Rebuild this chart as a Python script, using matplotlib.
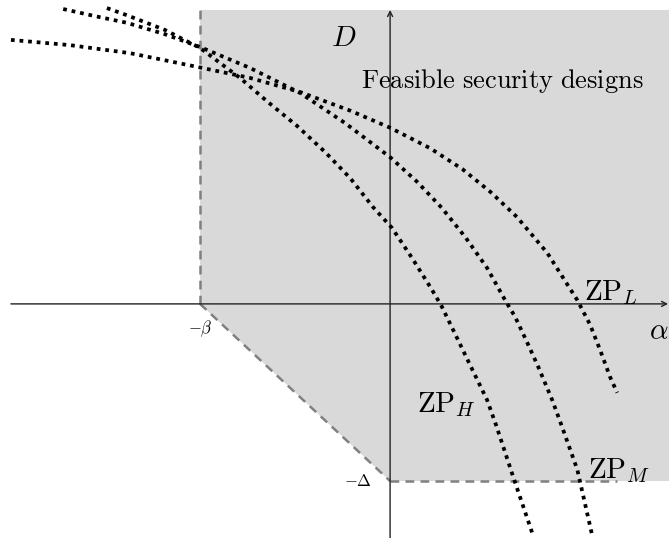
import numpy as np
import matplotlib.pyplot as plt

plt.rcParams['mathtext.fontset'] = 'cm'

# ==============================================================================
# DATA (origin at the axes crossing)
# ==============================================================================

beta = 4.0      # feasible region starts at alpha = -beta
delta = 3.73    # and is bounded below by D = -Delta
region_top = 6.19
region_dash_end = 4.78

zp_l_alpha = [-7.98, -6.74, -5.47, -4.15, -2.95, -1.89, -0.84, 0.0, 0.84, 1.52,
              2.11, 2.67, 3.31, 3.94, 4.21, 4.42, 4.63, 4.78]
zp_l_d = [5.56, 5.45, 5.28, 5.01, 4.76, 4.46, 4.07, 3.71, 3.28, 2.84,
          2.36, 1.83, 1.07, 0.08, -0.44, -0.97, -1.54, -1.87]

zp_m_alpha = [-6.88, -6.21, -5.54, -4.74, -4.0, -2.95, -1.89, -0.95, 0.0, 0.57,
              1.09, 1.58, 2.04, 2.42, 2.63, 2.88, 3.12, 3.41, 3.62, 3.94, 4.25]
zp_m_d = [6.21, 6.06, 5.92, 5.68, 5.41, 4.97, 4.44, 3.81, 3.09, 2.57,
          2.02, 1.41, 0.76, 0.08, -0.27, -0.80, -1.33, -2.02, -2.59, -3.49, -4.86]

zp_h_alpha = [-5.96, -5.54, -4.74, -4.0, -3.16, -2.57, -1.96, -1.37, -0.84, -0.36,
              0.04, 0.46, 0.88, 1.09, 1.43, 1.68, 2.04, 2.23, 2.59, 2.99]
zp_h_d = [6.23, 6.08, 5.77, 5.39, 4.76, 4.25, 3.75, 3.20, 2.65, 2.04,
          1.60, 0.97, 0.30, -0.06, -0.76, -1.28, -2.02, -2.55, -3.64, -4.82]

# ==============================================================================
# FIGURE
# ==============================================================================

fig = plt.figure(figsize=(6.69, 5.38), dpi=100)
ax = fig.add_axes([0, 0, 1, 1])
ax.set_xlim(-8.21, 5.87)
ax.set_ylim(-4.93, 6.40)
ax.axis('off')

# feasible region
xr = ax.get_xlim()[1] + 1
region_x = [-beta, xr, xr, 0, -beta]
region_y = [region_top, region_top, -delta, -delta, 0]
ax.fill(region_x, region_y, color='#d9d9d9', lw=0, zorder=0)

dash_kw = dict(color='#808080', lw=1.8, linestyle=(0, (3.5, 2.5)), zorder=1)
ax.plot([-beta, -beta], [0, region_top], **dash_kw)
ax.plot([-beta, 0], [0, -delta], **dash_kw)
ax.plot([0, region_dash_end], [-delta, -delta], **dash_kw)

# axes with arrows
arrow_kw = dict(arrowstyle='->', color='#222222', lw=1.0, shrinkA=0, shrinkB=0,
                mutation_scale=9)
ax.annotate('', xy=(5.85, 0), xytext=(-7.98, 0), arrowprops=arrow_kw, zorder=2)
ax.annotate('', xy=(0, region_top), xytext=(0, -4.95), arrowprops=arrow_kw, zorder=2)

# zero-profit curves
dot_kw = dict(color='black', lw=2.7, linestyle=(0, (1, 1.3)),
              dash_capstyle='butt', solid_joinstyle='round', zorder=3)
ax.plot(zp_l_alpha, zp_l_d, **dot_kw)
ax.plot(zp_m_alpha, zp_m_d, **dot_kw)
ax.plot(zp_h_alpha, zp_h_d, **dot_kw)

# labels
ax.text(-0.97, 5.60, r'$D$', fontsize=21, ha='center', va='center')
ax.text(2.37, 4.55, r'$\mathrm{Feasible\ security\ designs}$', fontsize=19,
        ha='center', va='baseline')
ax.text(4.08, 0.08, r'$\mathrm{ZP}_L$', fontsize=21, ha='left', va='baseline')
ax.text(0.57, -2.27, r'$\mathrm{ZP}_H$', fontsize=21, ha='left', va='baseline')
ax.text(4.17, -3.66, r'$\mathrm{ZP}_M$', fontsize=21, ha='left', va='baseline')
ax.text(5.85, -0.74, r'$\alpha$', fontsize=21, ha='right', va='baseline')
ax.text(-4.0, -0.53, r'$-\beta$', fontsize=12, ha='center', va='center')
ax.text(-0.38, -3.73, r'$-\Delta$', fontsize=12, ha='right', va='center')

plt.savefig('out.png', dpi=100)
